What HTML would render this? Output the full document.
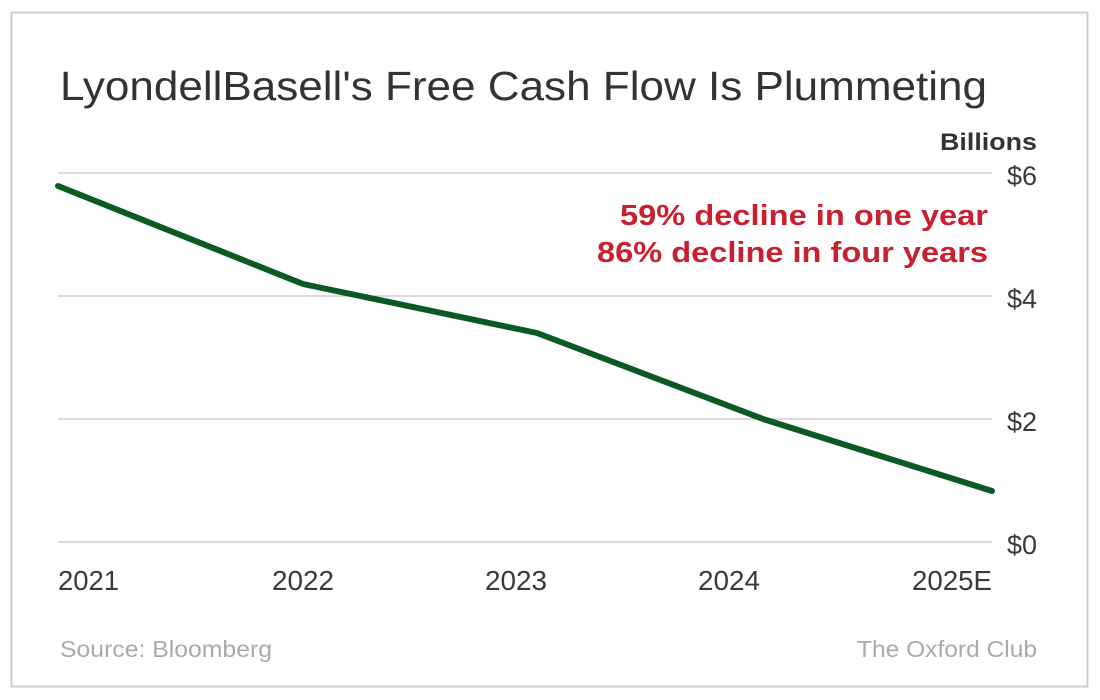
<!DOCTYPE html>
<html>
<head>
<meta charset="utf-8">
<style>
  html, body { margin: 0; padding: 0; background: #ffffff; }
  svg { display: block; }
  text { font-family: "Liberation Sans", Arial, sans-serif; }
</style>
</head>
<body>
<svg width="1100" height="700" viewBox="0 0 1100 700" xmlns="http://www.w3.org/2000/svg">
  <rect x="0" y="0" width="1100" height="700" fill="#ffffff"/>
  <rect x="11.5" y="12.5" width="1076" height="674" fill="#ffffff" stroke="#cccccc" stroke-width="2"/>

  <!-- Title -->
  <text x="60" y="100" font-size="41" fill="#333333" textLength="927" lengthAdjust="spacingAndGlyphs">LyondellBasell's Free Cash Flow Is Plummeting</text>

  <!-- Units -->
  <text x="1037" y="150" font-size="24" font-weight="bold" fill="#333333" text-anchor="end" textLength="97" lengthAdjust="spacingAndGlyphs">Billions</text>

  <!-- Gridlines -->
  <g stroke="#c4c4c4" stroke-width="1.3">
    <line x1="58" y1="173" x2="992" y2="173"/>
    <line x1="58" y1="296" x2="992" y2="296"/>
    <line x1="58" y1="419" x2="992" y2="419"/>
    <line x1="58" y1="542" x2="992" y2="542"/>
  </g>

  <!-- Y labels -->
  <g font-size="27" fill="#3a3a3a" text-anchor="end">
    <text x="1037" y="185">$6</text>
    <text x="1037" y="308">$4</text>
    <text x="1037" y="431">$2</text>
    <text x="1037" y="554">$0</text>
  </g>

  <!-- Annotation -->
  <g font-size="29" font-weight="bold" fill="#c8202e" text-anchor="end">
    <text x="988" y="225" textLength="368" lengthAdjust="spacingAndGlyphs">59% decline in one year</text>
    <text x="988" y="262" textLength="391" lengthAdjust="spacingAndGlyphs">86% decline in four years</text>
  </g>

  <!-- Series -->
  <polyline points="58,186 303,284 537,333 763,419 992,491" fill="none" stroke="#0b5a25" stroke-width="6" stroke-linecap="round" stroke-linejoin="round"/>

  <!-- X labels -->
  <g font-size="28" fill="#3a3a3a">
    <text x="58" y="590" textLength="61" lengthAdjust="spacingAndGlyphs">2021</text>
    <text x="272" y="590" textLength="62" lengthAdjust="spacingAndGlyphs">2022</text>
    <text x="485" y="590" textLength="62" lengthAdjust="spacingAndGlyphs">2023</text>
    <text x="698" y="590" textLength="62" lengthAdjust="spacingAndGlyphs">2024</text>
    <text x="912" y="590" textLength="80" lengthAdjust="spacingAndGlyphs">2025E</text>
  </g>

  <!-- Footer -->
  <text x="60" y="657" font-size="23" fill="#aaaaaa" textLength="212" lengthAdjust="spacingAndGlyphs">Source: Bloomberg</text>
  <text x="1037" y="657" font-size="23" fill="#aaaaaa" text-anchor="end" textLength="180" lengthAdjust="spacingAndGlyphs">The Oxford Club</text>
</svg>
</body>
</html>
